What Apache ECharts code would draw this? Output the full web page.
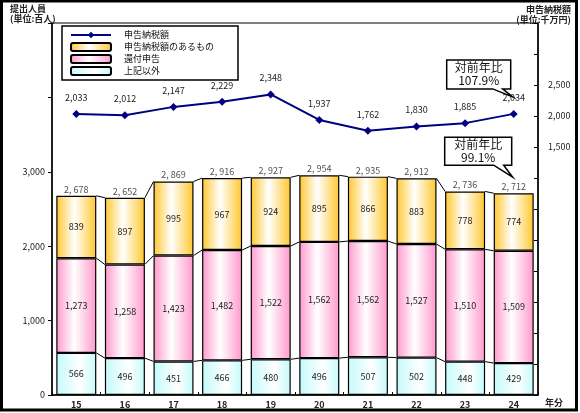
<!DOCTYPE html>
<html><head><meta charset="utf-8">
<script src="https://cdn.jsdelivr.net/npm/echarts@6/dist/echarts.min.js"></script>
<style>html,body{margin:0;padding:0;background:#fff}#c{width:580px;height:413px}</style>
</head><body><div id="c"></div>
<script>
var years = ['15','16','17','18','19','20','21','22','23','24'];
var other = [566,496,451,466,480,496,507,502,448,429];
var refund = [1273,1258,1423,1482,1522,1562,1562,1527,1510,1509];
var taxable = [839,897,995,967,924,895,866,883,778,774];
var totals = [2678,2652,2869,2916,2927,2954,2935,2912,2736,2712];
var taxAmount = [2033,2012,2147,2229,2348,1937,1762,1830,1885,2034];
var leftTicks = [0,1000,2000,3000];
var rightTicks = [1500,2000,2500];
var ratioTax = '107.9%';
var ratioPeople = '99.1%';

var FONT = '"Noto Sans CJK JP", "DejaVu Sans", sans-serif';
var BAR_W = 40;
function fmt(v){ return String(v).replace(/\B(?=(\d{3})+(?!\d))/g, ','); }
function grad(edge, mid){
  return new echarts.graphic.LinearGradient(0,0,1,0,[
    {offset:0,color:edge},{offset:mid,color:'#ffffff'},{offset:1,color:edge}]);
}
var c1 = [], c2 = [], c3 = [];
for (var i=0;i<years.length;i++){ c1.push(other[i]); c2.push(other[i]+refund[i]); c3.push(other[i]+refund[i]+taxable[i]); }
var connData = [];
for (var i=0;i<years.length-1;i++){ connData.push([i, c1[i], c2[i], c3[i], c1[i+1], c2[i+1], c3[i+1]]); }

var chart = echarts.init(document.getElementById('c'), null, {renderer:'canvas'});
var segLabel = {show:true, position:'inside', fontSize:9, color:'#222', fontFamily:FONT, formatter:function(p){return fmt(p.value);}};
var option = {
  animation:false,
  textStyle:{fontFamily:FONT},
  grid:{left:52, right:42, top:23, bottom:18, show:true, borderColor:'#000', borderWidth:1, backgroundColor:'transparent'},
  legend:{
    orient:'vertical', left:62, top:26,
    data:['申告納税額','申告納税額のあるもの','還付申告','上記以外'],
    itemWidth:40, itemHeight:8, itemGap:2,
    padding:[4,24,4,8],
    borderColor:'#000', borderWidth:1.5, backgroundColor:'#fff',
    textStyle:{fontSize:9, color:'#111', fontFamily:FONT, lineHeight:10, padding:[0,0,0,8]}
  },
  xAxis:{
    type:'category', data:years,
    axisLine:{lineStyle:{color:'#000', width:1.5}},
    axisTick:{show:true, inside:true, length:3, lineStyle:{color:'#000'}},
    axisLabel:{fontSize:9, fontWeight:'bold', color:'#222', margin:5, fontFamily:FONT}
  },
  yAxis:[{
    type:'value', min:0, max:5000, interval:1000, position:'left',
    axisLine:{show:true, lineStyle:{color:'#000', width:1.5}},
    axisTick:{show:true, length:4, lineStyle:{color:'#000'}},
    splitLine:{show:false},
    axisLabel:{fontSize:9, color:'#222', margin:7, fontFamily:FONT,
      formatter:function(v){ return leftTicks.indexOf(v)>=0 ? fmt(v) : ''; }}
  },{
    type:'value', min:-2500, max:3500, interval:500, position:'right',
    axisLine:{show:true, lineStyle:{color:'#000', width:1.5}},
    axisTick:{show:true, inside:true, length:4, lineStyle:{color:'#000'}},
    splitLine:{show:false},
    axisLabel:{fontSize:9, color:'#222', margin:10, fontFamily:FONT,
      formatter:function(v){ return rightTicks.indexOf(v)>=0 ? fmt(v) : ''; }}
  }],
  series:[
    {name:'上記以外', type:'bar', stack:'p', barWidth:BAR_W, data:other,
     itemStyle:{color:grad('#C4FAFA',0.6), borderColor:'#000', borderWidth:1.2}, label:segLabel, z:2},
    {name:'還付申告', type:'bar', stack:'p', barWidth:BAR_W, data:refund,
     itemStyle:{color:grad('#FF99CC',0.45), borderColor:'#000', borderWidth:1.2}, label:segLabel, z:2},
    {name:'申告納税額のあるもの', type:'bar', stack:'p', barWidth:BAR_W, data:taxable,
     itemStyle:{color:grad('#FFC72E',0.45), borderColor:'#000', borderWidth:1.2}, label:segLabel, z:2},
    {name:'totals', type:'scatter', data:c3, symbolSize:0, silent:true, z:5,
     label:{show:true, position:'top', distance:2, fontSize:9, color:'#222', fontFamily:FONT,
       formatter:function(p){ return fmt(totals[p.dataIndex]).replace(',', ', '); }}},
    {name:'conn', type:'custom', data:connData, silent:true, z:1,
     renderItem:function(params, api){
       var ch = [];
       for (var k=1;k<=3;k++){
         var a = api.coord([api.value(0), api.value(k)]);
         var b = api.coord([api.value(0)+1, api.value(k+3)]);
         ch.push({type:'line', shape:{x1:a[0]+BAR_W/2, y1:a[1], x2:b[0]-BAR_W/2, y2:b[1]}, style:{stroke:'#000', lineWidth:1}});
       }
       return {type:'group', children:ch};
     }},
    {name:'申告納税額', type:'line', yAxisIndex:1, data:taxAmount, z:6,
     symbol:'diamond', symbolSize:8,
     lineStyle:{color:'#000080', width:2}, itemStyle:{color:'#000080'},
     label:{show:true, position:'top', distance:8, fontSize:9, color:'#222', fontFamily:FONT,
       formatter:function(p){ return fmt(p.value); }}}
  ],
  graphic:[]
};
chart.setOption(option);

function callout(tip, R, B, W, H, line2){
  var L = R - W, T = B - H;
  return {type:'group', z:100, children:[
    {type:'polygon', shape:{points:[[L,T],[R,T],[R,B],[R-8,B],[tip[0],tip[1]],[R-18,B],[L,B]]},
     style:{fill:'#fff', stroke:'#000', lineWidth:1.5}},
    {type:'text', x:(L+R)/2, y:T+1, style:{text:'対前年比\n'+line2, fill:'#111', font:'12px '+FONT, align:'center', verticalAlign:'top', lineHeight:13}}
  ]};
}
var last = years.length-1;
var p1 = chart.convertToPixel({xAxisIndex:0, yAxisIndex:1}, [last, taxAmount[last]]);
var p2 = chart.convertToPixel({xAxisIndex:0, yAxisIndex:0}, [last, c3[last]]);
chart.setOption({graphic:[
  {type:'rect', shape:{x:1.5, y:1, width:575, height:409}, style:{fill:'none', stroke:'#000', lineWidth:3}, z:100},
  {type:'text', x:10, y:4, style:{text:'提出人員\n(単位:百人)', font:'bold 9px '+FONT, fill:'#222', lineHeight:10}},
  {type:'text', x:571, y:5, style:{text:'申告納税額\n(単位:千万円)', font:'bold 9px '+FONT, fill:'#222', align:'right', lineHeight:10}},
  {type:'text', x:545, y:398, style:{text:'年分', font:'bold 9px '+FONT, fill:'#222'}},
  callout([p1[0]-1, p1[1]-17], p1[0]-3, p1[1]-25, 64, 29, ratioTax),
  callout([p2[0]-1, p2[1]-16], p2[0]-2, p2[1]-28, 67, 28, ratioPeople)
]});
</script></body></html>
